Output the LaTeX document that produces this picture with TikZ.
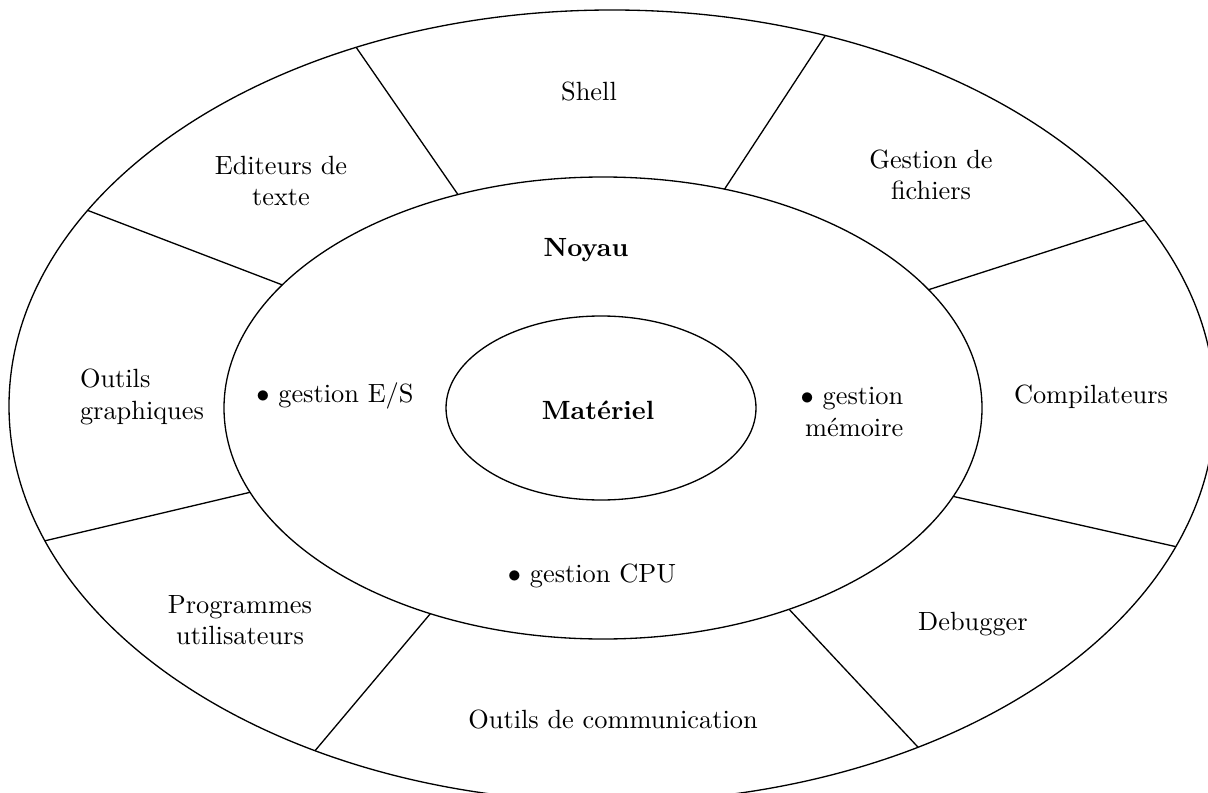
\documentclass[tikz,border=0pt]{standalone}
\begin{document}
\begin{tikzpicture}[x=0.0133333cm,y=-0.0133333cm,
  ring/.style={draw,line width=0.5pt},
  sep/.style={draw,line width=0.5pt},
  lbl/.style={align=center,inner sep=0pt,font=\normalsize}]
\clip (0,0) rectangle (1208,793);
\coordinate (oc) at (612,406);
\coordinate (mc) at (603,408);
\coordinate (ic) at (601,408);
\draw[ring] (oc) ellipse [x radius=603, y radius=396];
\draw[ring] (mc) ellipse [x radius=379, y radius=231];
\draw[ring] (ic) ellipse [x radius=155, y radius=92];
% separators
\path (mc) ++(-112.5:379 and 231) coordinate (m1);
\path (mc) ++(-71.3:379 and 231) coordinate (m2);
\path (mc) ++(-30.8:379 and 231) coordinate (m3);
\path (mc) ++(22.5:379 and 231) coordinate (m4);
\path (mc) ++(60.6:379 and 231) coordinate (m5);
\path (mc) ++(117.1:379 and 231) coordinate (m6);
\path (mc) ++(158.6:379 and 231) coordinate (m7);
\path (mc) ++(212.2:379 and 231) coordinate (m8);
\path (oc) ++(-115.1:603 and 396) coordinate (o1);
\path (oc) ++(-69.3:603 and 396) coordinate (o2);
\path (oc) ++(-28.0:603 and 396) coordinate (o3);
\path (oc) ++(20.8:603 and 396) coordinate (o4);
\path (oc) ++(59.5:603 and 396) coordinate (o5);
\path (oc) ++(119.5:603 and 396) coordinate (o6);
\path (oc) ++(160.1:603 and 396) coordinate (o7);
\path (oc) ++(209.6:603 and 396) coordinate (o8);
\foreach \i in {1,...,8} \draw[sep] (m\i) -- (o\i);
% labels
\node[lbl] (shell) at (589,92) {Shell};
\node[lbl] (edit) at (281,181) {Editeurs de\\texte};
\node[lbl] (gest) at (931,175) {Gestion de\\ fichiers};
\node[lbl] (comp) at (1091,397) {Compilateurs};
\node[lbl] (debug) at (973,624) {Debugger};
\node[lbl] (comm) at (613,719) {Outils de communication};
\node[lbl] (prog) at (240,620) {Programmes\\utilisateurs};
\node[lbl,align=left] (graph) at (142,397) {Outils\\graphiques};
\node[lbl] (noyau) at (586,250) {\textbf{Noyau}};
\node[lbl] (es) at (335,396) {$\bullet$ gestion E/S};
\node[lbl] (mat) at (598,410) {\textbf{Matériel}};
\node[lbl] (cpu) at (592,576) {$\bullet$ gestion CPU};
\node[lbl,align=right] (mem) at (852,412) {$\bullet$ gestion\\ mémoire};
\end{tikzpicture}
\end{document}
